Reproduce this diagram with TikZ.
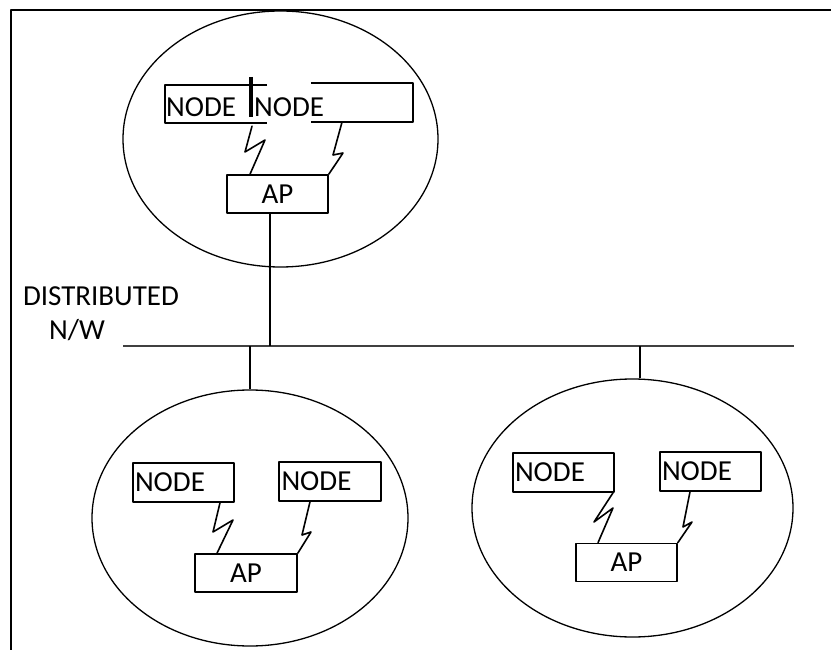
\documentclass[tikz,border=0pt]{standalone}
\usepackage{fontspec}
\setmainfont{Carlito}
\usetikzlibrary{shapes.geometric}
\begin{document}
\begin{tikzpicture}[x=1pt,y=-1pt,
  line join=round,
  lbl/.style={font=\fontsize{29}{31}\selectfont, inner sep=0pt},
  boxn/.style={draw, line width=1.6pt, minimum width=101pt, minimum height=39pt, inner sep=0pt, text width=97pt, align=left, font=\fontsize{29}{31}\selectfont},
  frameless/.style={minimum width=102pt, minimum height=38pt, inner sep=0pt},
  apbox/.style={draw, line width=1.6pt, minimum width=101pt, minimum height=38pt, inner sep=0pt, font=\fontsize{29}{31}\selectfont},
  cloud/.style={draw, ellipse, line width=1.3pt, inner sep=0pt},
  wire/.style={line width=1.3pt},
  zig/.style={line width=1.6pt, line cap=round},
  edgebox/.style={line width=1.6pt},
]
\useasboundingbox (0,0) rectangle (831,650);
% frame
\draw[line width=1.4pt] (831,10) -- (11,10) -- (11,650);

% ---------------- top cell ----------------
\node[cloud, minimum width=315pt, minimum height=256pt] (te) at (280.5,139) {};
\node[frameless] (tl) at (216,104) {};
\node[frameless, minimum height=39pt] (tr) at (362,102.5) {};
\draw[edgebox] (tl.north east) -- (tl.north west) -- (tl.south west) -- (tl.south east);
\draw[edgebox] (tr.north west) -- (tr.north east) -- (tr.south east) -- (tr.south west);
\node[lbl, anchor=base west] (tlt) at (166,117) {NODE};
\node[lbl, anchor=base west] (trt) at (254,117) {NODE};
\draw[line width=3.2pt] (251,77) -- (251,117);
\node[apbox] (tap) at (277.5,194) {AP};
\draw[zig] ([xshift=36pt,yshift=-3pt]tl.south) -- (245,152) -- (265,140) -- ([xshift=-27.5pt]tap.north);
\draw[zig] ([xshift=-20pt]tr.south) -- (333,155) -- (343,153) -- (tap.north east);

% ---------------- bus ----------------
\coordinate (busL) at (123,346);
\coordinate (busR) at (794,346);
\coordinate (j1) at (270,346);
\coordinate (j2) at (250,346);
\coordinate (j3) at (640,346);
\draw[line width=2pt, black!75] (busL) -- (busR);
\draw[wire] ([xshift=-7.5pt]tap.south) -- (j1);
\node[lbl] (dist) at (101,296) {DISTRIBUTED};
\node[lbl] (nw) at (77,330) {N/W};

% ---------------- bottom left cell ----------------
\node[cloud, minimum width=316pt, minimum height=256pt] (ble) at (250,518) {};
\draw[wire] (j2) -- (ble.north);
\node[boxn] (bl1) at (183.5,482.5) {NODE};
\node[boxn, minimum width=102pt] (bl2) at (330,481.5) {NODE};
\node[apbox, minimum width=102pt] (blap) at (246,573) {AP};
\draw[zig] ([xshift=36.5pt]bl1.south) -- (213,532) -- (233,520) -- ([xshift=-29pt]blap.north);
\draw[zig] ([xshift=-20pt]bl2.south) -- (302,535) -- (311,532) -- (blap.north east);

% ---------------- bottom right cell ----------------
\node[cloud, minimum width=321pt, minimum height=258pt] (bre) at (632.5,508) {};
\draw[wire] (j3) -- (j3 |- bre.north);
\node[boxn] (br1) at (563.5,472.5) {NODE};
\node[boxn] (br2) at (710.5,471.5) {NODE};
\node[apbox] (brap) at (626.5,562.5) {AP};
\draw[zig] ([xshift=49.5pt]br1.south) -- (594,522) -- (613,508) -- ([xshift=-28.5pt]brap.north);
\draw[zig] ([xshift=-20.5pt]br2.south) -- (683,527) -- (692,522) -- (brap.north east);
\end{tikzpicture}
\end{document}
